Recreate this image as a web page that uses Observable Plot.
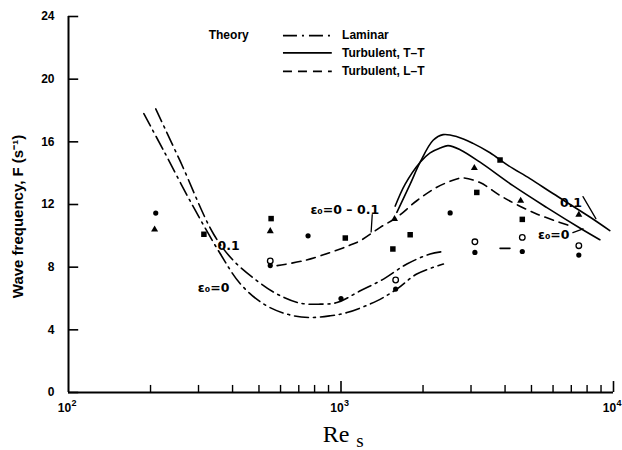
<!DOCTYPE html>
<html>
<head>
<meta charset="utf-8">
<script src="https://cdn.jsdelivr.net/npm/d3@7"></script>
<script src="https://cdn.jsdelivr.net/npm/@observablehq/plot@0.6"></script>
<style>
  body { margin: 0; background: #fff; }
  #chart svg { display: block; background: #fff; }
</style>
</head>
<body>
<div id="chart"></div>
<script>
// Theory curves: Reynolds number Re_s and wave frequency F (s^-1)
const lamLoRe = [189, 224, 284, 361, 428, 521, 634, 761, 914, 1052, 1355, 1603, 1897, 2375];   // laminar, ε0 = 0
const lamLoF  = [17.8, 15.4, 12.0, 8.84, 6.92, 5.64, 5.0, 4.79, 4.9, 5.1, 5.85, 6.6, 7.56, 8.2];
const lamHiRe = [209, 258, 341, 404, 492, 583, 710, 840, 967, 1177, 1432, 1745, 2124, 2375];  // laminar, ε0 = 0.1
const lamHiF  = [18.1, 14.7, 10.1, 8.4, 7.13, 6.28, 5.7, 5.64, 5.74, 6.49, 7.24, 8.2, 8.84, 9.0];
const ttHiRe  = [1603, 1794, 1952, 2178, 2370, 2667, 3052, 3523, 4101, 4937, 5995, 8190, 9692]; // turbulent T-T, ε0 = 0.1
const ttHiF   = [11.5, 13.3, 14.7, 16.1, 16.46, 16.33, 15.9, 15.3, 14.5, 13.65, 12.7, 11.2, 10.33];
const ttLoRe  = [1581, 1720, 1952, 2123, 2310, 2471, 2735, 3238, 4277, 5697, 7524, 8910];       // turbulent T-T, ε0 = 0
const ttLoF   = [11.9, 13.3, 14.7, 15.3, 15.6, 15.76, 15.5, 14.7, 13.2, 11.8, 10.5, 9.75];
const ltRe    = [583, 729, 914, 1067, 1177, 1393, 1603, 1897, 2248, 2660, 2812, 3236, 3942, 5224, 6918]; // turbulent L-T
const ltF     = [8.1, 8.41, 8.94, 9.37, 9.69, 10.54, 11.18, 12.24, 13.1, 13.63, 13.7, 13.4, 12.45, 11.4, 10.64];
const fragRe  = [3834, 4170];
const fragF   = [9.2, 9.2];

// Measurements
const filledCircleRe = [209, 550, 757, 1000, 1587, 2515, 3100, 4627, 7460];
const filledCircleF  = [11.45, 8.1, 10.0, 6.0, 6.6, 11.46, 8.94, 9.0, 8.77];
const openCircleRe   = [550, 1587, 3100, 4627, 7460];
const openCircleF    = [8.4, 7.18, 9.62, 9.9, 9.37];
const squareRe       = [314, 554, 1037, 1550, 1794, 3150, 3834, 4627];
const squareF        = [10.1, 11.1, 9.86, 9.16, 10.07, 12.77, 14.84, 11.05];
const triangleRe     = [207, 550, 1572, 3086, 4564, 7460];
const triangleF      = [10.4, 10.3, 11.07, 14.33, 12.24, 11.35];

// Axis ticks
const yTicks = [0, 4, 8, 12, 16, 20, 24];
const xMajor = [1000, 10000];
const xMinor = [200, 300, 400, 500, 600, 700, 800, 900, 2000, 3000, 4000, 5000, 6000, 7000, 8000, 9000];
const xLabelRe = [100, 1000, 10000];
const xLabelExp = ["2", "3", "4"];

// Curve annotations
const annRe   = [298, 352, 772, 6359, 5281];
const annF    = [6.68, 9.37, 11.66, 12.12, 10.07];
const annText = ["ε₀=0", "0.1", "ε₀=0 – 0.1", "0.1", "ε₀=0"];
const arrowRe1 = [1302, 7727, 7096];
const arrowF1  = [11.35, 12.5, 10.2];
const arrowRe2 = [1290, 8616, 7727];
const arrowF2  = [10.25, 11.1, 10.45];
const arrowBend = [0, 40, 0];

// Legend
const legendTitle = "Theory";
const legendTitleRe = 327;
const legendLabels = ["Laminar", "Turbulent, T–T", "Turbulent, L–T"];
const legendRowF = [22.78, 21.68, 20.5];
const legendKeyRe = [615, 929];
const legendLabelRe = 1009;

const zip = (xs, ys) => xs.map((x, i) => ({x, y: ys[i]}));
const ann = annRe.map((x, i) => ({x, y: annF[i], text: annText[i]}));
const arrows = arrowRe1.map((x, i) => ({x1: x, y1: arrowF1[i], x2: arrowRe2[i], y2: arrowF2[i], bend: arrowBend[i]}));

const dashDot = "14,5,2,5";
const dashed = "9,6";
const font = "'Liberation Sans', Arial, sans-serif";
const serif = "'Liberation Serif', 'DejaVu Serif', serif";
const lineOpts = {x: "x", y: "y", stroke: "black", strokeWidth: 1.6, curve: "catmull-rom"};

const chart = Plot.plot({
  width: 622,
  height: 450,
  marginLeft: 68,
  marginRight: 9,
  marginTop: 16,
  marginBottom: 58,
  style: {fontFamily: font, color: "black", background: "white"},
  x: {type: "log", domain: [100, 10000], axis: null},
  y: {domain: [0, 24], axis: null},
  marks: [
    // axes
    Plot.ruleY([0], {x1: 100, x2: 10000, strokeWidth: 2}),
    Plot.ruleX([100], {y1: 0, y2: 24, strokeWidth: 2}),
    Plot.ruleY(yTicks, {y: d => d, x1: 100, x2: 109, strokeWidth: 1.6}),
    Plot.ruleX(xMajor, {x: d => d, y1: 0, y2: 0.7, strokeWidth: 1.6}),
    Plot.ruleX(xMinor, {x: d => d, y1: 0, y2: 0.45, strokeWidth: 1.4}),
    Plot.text(yTicks, {x: 100, y: d => d, text: d => String(d), dx: -14, textAnchor: "end", lineAnchor: "middle", fontSize: 12, fontWeight: "bold"}),
    Plot.text(xLabelRe, {x: d => d, y: 0, text: () => "10", dx: -4, dy: 16, lineAnchor: "middle", fontSize: 12, fontWeight: "bold"}),
    Plot.text(xLabelRe, {x: d => d, y: 0, text: (d, i) => xLabelExp[i], dx: 3, dy: 11, textAnchor: "start", lineAnchor: "middle", fontSize: 9, fontWeight: "bold"}),
    Plot.text(["Wave frequency, F (s⁻¹)"], {frameAnchor: "left", dx: -50, dy: 12, rotate: -90, textAnchor: "middle", lineAnchor: "middle", fontSize: 15, fontWeight: "bold", letterSpacing: 1.3}),
    Plot.text(["Re"], {frameAnchor: "bottom", dx: -5, dy: 42, lineAnchor: "middle", fontSize: 24, fontFamily: serif}),
    Plot.text(["s"], {frameAnchor: "bottom", dx: 19, dy: 48, lineAnchor: "middle", fontSize: 19, fontFamily: serif}),

    // theory curves
    Plot.line(zip(lamLoRe, lamLoF), {...lineOpts, strokeDasharray: dashDot}),
    Plot.line(zip(lamHiRe, lamHiF), {...lineOpts, strokeDasharray: dashDot}),
    Plot.line(zip(ttHiRe, ttHiF), {...lineOpts}),
    Plot.line(zip(ttLoRe, ttLoF), {...lineOpts}),
    Plot.line(zip(ltRe, ltF), {...lineOpts, strokeDasharray: dashed}),
    Plot.line(zip(fragRe, fragF), {...lineOpts}),

    // measurements
    Plot.dot(zip(filledCircleRe, filledCircleF), {x: "x", y: "y", r: 2.6, fill: "black"}),
    Plot.dot(zip(openCircleRe, openCircleF), {x: "x", y: "y", r: 2.8, fill: "white", stroke: "black", strokeWidth: 1.3}),
    Plot.dot(zip(squareRe, squareF), {x: "x", y: "y", r: 3.1, symbol: "square", fill: "black"}),
    Plot.dot(zip(triangleRe, triangleF), {x: "x", y: "y", r: 2.6, symbol: "triangle", fill: "black"}),

    // annotations
    Plot.text(ann, {x: "x", y: "y", text: "text", textAnchor: "start", lineAnchor: "middle", fontSize: 12.5, fontWeight: "bold", fontFamily: "'DejaVu Sans', sans-serif"}),
    Plot.arrow(arrows, {x1: "x1", y1: "y1", x2: "x2", y2: "y2", bend: "bend", stroke: "black", strokeWidth: 1.3, headLength: 6}),

    // legend
    Plot.text([legendTitle], {x: legendTitleRe, y: legendRowF[0], textAnchor: "start", lineAnchor: "middle", fontSize: 12, fontWeight: "bold"}),
    Plot.ruleY([legendRowF[0]], {y: d => d, x1: legendKeyRe[0], x2: legendKeyRe[1], strokeWidth: 1.6, strokeDasharray: dashDot}),
    Plot.ruleY([legendRowF[1]], {y: d => d, x1: legendKeyRe[0], x2: legendKeyRe[1], strokeWidth: 1.6}),
    Plot.ruleY([legendRowF[2]], {y: d => d, x1: legendKeyRe[0], x2: legendKeyRe[1], strokeWidth: 1.6, strokeDasharray: dashed}),
    Plot.text(legendLabels, {x: legendLabelRe, y: (d, i) => legendRowF[i], text: d => d, textAnchor: "start", lineAnchor: "middle", fontSize: 12, fontWeight: "bold", letterSpacing: 0.8})
  ]
});

document.getElementById("chart").appendChild(chart);
</script>
</body>
</html>
